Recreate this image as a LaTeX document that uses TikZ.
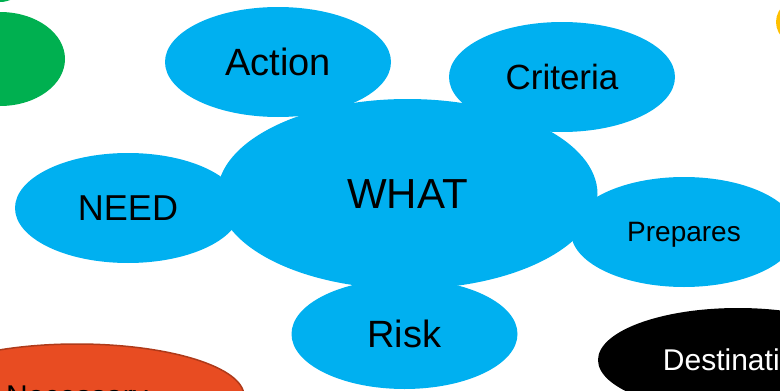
\documentclass[tikz,border=0pt]{standalone}
\usepackage{fontspec}
\setmainfont{Liberation Sans}
\usetikzlibrary{shapes.geometric}
\definecolor{skyblue}{HTML}{00B0F0}
\definecolor{leafgreen}{HTML}{00B050}
\definecolor{sunyellow}{HTML}{FFC000}
\definecolor{brickred}{HTML}{E84C22}
\definecolor{brickedge}{HTML}{AE3A1A}
\tikzset{
  bubble/.style={ellipse, fill=skyblue, inner sep=0pt, text depth=0pt,
    minimum width=226pt, minimum height=110pt},
  fsize/.style={font=\fontsize{#1}{#1}\selectfont},
}
\begin{document}
\begin{tikzpicture}[x=1pt,y=-1pt]
  %% frame
  \useasboundingbox (0,0) rectangle (780,391);
  \clip (0,0) rectangle (780,391);
  %% outer bubbles, cut off by the frame
  \node[ellipse, fill=leafgreen, minimum width=70pt, minimum height=94pt] (goaltop) at (0,-45) {};
  \node[ellipse, fill=leafgreen, minimum width=130pt, minimum height=94pt] (goal) at (0,59) {};
  \node[ellipse, fill=sunyellow, minimum width=68pt, minimum height=54pt] (sun) at (810,22) {};
  \node[ellipse, fill=brickred, draw=brickedge, line width=1.5pt, inner sep=0pt, text depth=0pt,
    minimum width=334pt, minimum height=104pt, fsize=30] (necessary) at (77,396) {Necessary};
  \node[ellipse, fill=black, text=white, inner sep=0pt, text depth=0pt,
    minimum width=280pt, minimum height=104pt, fsize=30] (destination) at (738,360) {Destination};
  %% blue bubbles round the centre
  \node[bubble, fsize=38] (action) at (278,62) {Action};
  \node[bubble, fsize=35] (criteria) at (562,77) {Criteria};
  \node[bubble, fsize=36] (need) at (128,208) {NEED};
  \node[bubble, fsize=28] (prepares) at (684,232) {Prepares};
  \node[bubble, fsize=38] (risk) at (404.5,334) {Risk};
  %% centre
  \node[bubble, minimum width=380pt, minimum height=190pt, fsize=42] (what) at (407.5,194) {WHAT};
\end{tikzpicture}
\end{document}
